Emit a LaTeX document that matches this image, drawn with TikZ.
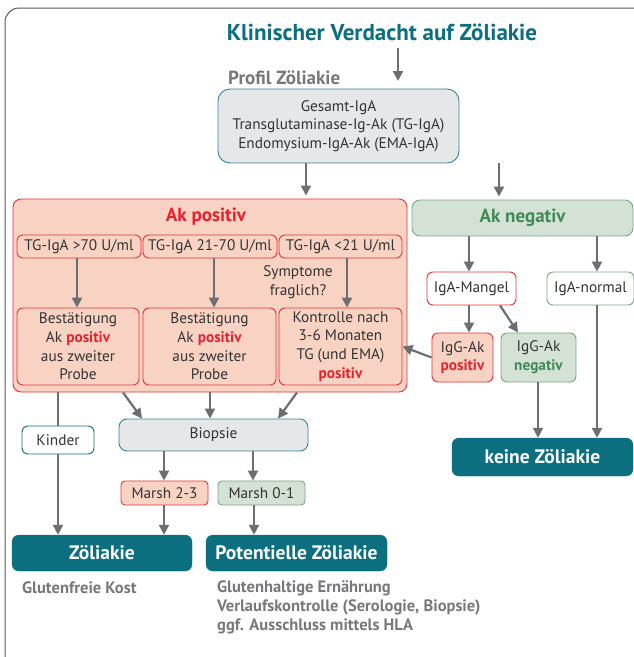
\documentclass[tikz,border=0pt]{standalone}
\usepackage{fontspec}
\setmainfont{PT Sans}
\usetikzlibrary{arrows.meta,calc}
\definecolor{teal1}{HTML}{0B6F80}
\definecolor{salm}{HTML}{F8D3C4}
\definecolor{redb}{HTML}{E63238}
\definecolor{redt}{HTML}{E8212E}
\definecolor{grnf}{HTML}{D4E2D6}
\definecolor{grnb}{HTML}{7BA486}
\definecolor{grnt}{HTML}{3F8A57}
\definecolor{grayf}{HTML}{E5E7E9}
\definecolor{arrg}{HTML}{6D6E71}
\definecolor{txtg}{HTML}{77787B}
\definecolor{txtd}{HTML}{333333}
\tikzset{
  arr/.style={draw=arrg,line width=2.2pt,-{Triangle[length=10pt,width=10pt]}},
  ln/.style={draw=arrg,line width=2.2pt},
  bx/.style={rounded corners=6pt,line width=0.9pt,align=center,inner sep=0pt,font=\fontsize{15.3}{18.7}\selectfont,text=txtd},
  redbox/.style={bx,fill=salm,draw=redb},
  grnbox/.style={bx,fill=grnf,draw=grnb},
  graybox/.style={bx,fill=grayf,draw=teal1!85},
  whred/.style={bx,fill=white,draw=redb},
  whgrn/.style={bx,fill=white,draw=grnb},
  whteal/.style={bx,fill=white,draw=teal1},
  res/.style={rounded corners=7pt,fill=teal1,draw=teal1,text=white,font=\fontsize{19.5}{22}\selectfont\bfseries,inner sep=0pt},
  note/.style={text=txtg,font=\fontsize{16.5}{19}\selectfont\bfseries,anchor=north west,inner sep=0pt,align=left},
}
\begin{document}
\begin{tikzpicture}[x=1pt,y=-1pt]
\useasboundingbox (0,0) rectangle (634,657);
\fill[white] (0,0) rectangle (634,657);
\draw[draw=black!65,line width=1pt,rounded corners=14pt] (5,8) rectangle (660,690);

\node[text=teal1,font=\fontsize{23}{26}\selectfont\bfseries] (title) at (382,32) {Klinischer Verdacht auf Zöliakie};
\node[text=txtg,font=\fontsize{19}{22}\selectfont\bfseries,anchor=west,inner sep=0pt] (profil) at (228,78) {Profil Zöliakie};

\node[graybox,rounded corners=12pt,minimum width=241pt,minimum height=74pt] (top) at (338.5,126) {Gesamt-IgA\\Transglutaminase-Ig-Ak (TG-IgA)\\Endomysium-IgA-Ak (EMA-IgA)};

\node[redbox,rounded corners=8pt,minimum width=394pt,minimum height=193pt] (akpos) at (210,295.5) {};
\node[text=redt,font=\fontsize{19}{22}\selectfont\bfseries] (akpost) at (206,217) {Ak positiv};

\node[redbox,minimum width=124pt,minimum height=23pt] (tg1) at (79,246.5) {TG-IgA >70 U/ml};
\node[redbox,minimum width=134pt,minimum height=23pt] (tg2) at (210,246.5) {TG-IgA 21-70 U/ml};
\node[redbox,minimum width=123pt,minimum height=23pt] (tg3) at (340.5,246.5) {TG-IgA <21 U/ml};

\node[redbox,minimum width=122pt,minimum height=77pt] (b1) at (78,346.5) {Bestätigung\\Ak {\color{redt}\bfseries positiv}\\aus zweiter\\Probe};
\node[redbox,minimum width=133pt,minimum height=77pt] (b2) at (209.5,346.5) {Bestätigung\\Ak {\color{redt}\bfseries positiv}\\aus zweiter\\Probe};
\node[redbox,minimum width=123pt,minimum height=77pt] (b3) at (340.5,346.5) {Kontrolle nach\\3-6 Monaten\\TG (und EMA)\\{\color{redt}\bfseries positiv}};

\node[align=center,font=\fontsize{15.3}{19.5}\selectfont,text=txtd] (sym) at (298,282) {Symptome\\fraglich?};

\node[grnbox,rounded corners=8pt,minimum width=221pt,minimum height=36pt,font=\fontsize{19}{22}\selectfont\bfseries,text=grnt] (akneg) at (522.5,218) {Ak negativ};
\node[whred,minimum width=89pt,minimum height=33pt] (mangel) at (471.5,288.5) {IgA-Mangel};
\node[whgrn,minimum width=87pt,minimum height=33pt] (normal) at (590.5,288.5) {IgA-normal};
\node[redbox,minimum width=61pt,minimum height=49pt] (iggp) at (462.5,357.5) {IgG-Ak\\{\color{redt}\bfseries positiv}};
\node[grnbox,minimum width=75pt,minimum height=49pt] (iggn) at (538.5,357.5) {IgG-Ak\\{\color{grnt}\bfseries negativ}};
\node[res,minimum width=181pt,minimum height=38pt] (keine) at (542.5,457) {keine Zöliakie};

\node[whteal,minimum width=72pt,minimum height=28pt] (kinder) at (58,440) {Kinder};
\node[graybox,rounded corners=8pt,minimum width=189pt,minimum height=32pt] (biop) at (213.5,435) {Biopsie};
\node[redbox,rounded corners=4pt,minimum width=87pt,minimum height=24pt] (m23) at (164.5,493) {Marsh 2-3};
\node[grnbox,rounded corners=4pt,minimum width=87pt,minimum height=24pt] (m01) at (261.5,493) {Marsh 0-1};
\node[res,minimum width=180pt,minimum height=36pt] (zoel) at (102,553) {Zöliakie};
\node[res,minimum width=181pt,minimum height=36pt] (potz) at (296.5,553) {Potentielle Zöliakie};

\node[note] (gfk) at (22,582) {Glutenfreie Kost};
\node[note] (ghe) at (217,580) {Glutenhaltige Ernährung\\Verlaufskontrolle (Serologie, Biopsie)\\ggf. Ausschluss mittels HLA};

% arrows
\coordinate (tarr) at (398,48);
\coordinate (tarrend) at (398,81);
\draw[arr] (tarr) -- (tarrend);
\draw[arr] (top.south -| 306,0) -- ($(akpos.north -| 306,0)+(0,-3)$);
\draw[arr] (top.south -| 499,0) -- ($(akneg.north -| 499,0)+(0,-3)$);

\draw[arr] (tg1.south -| 77,0) -- (b1.north -| 77,0);
\draw[arr] (tg2.south -| 214,0) -- (b2.north -| 214,0);
\draw[arr] (tg3.south -| 347,0) -- (b3.north -| 347,0);

\draw[arr] (akneg.south -| 469,0) -- (mangel.north -| 469,0);
\draw[arr] (akneg.south -| 597,0) -- (normal.north -| 597,0);
\draw[arr] (mangel.south -| 469,0) -- (iggp.north -| 469,0);
\draw[arr] (mangel.south -| 500,0) -- (iggn.north -| 518,0);
\draw[arr] (iggp.west) -- (b3.east);
\draw[arr] (iggn.south -| 538,0) -- (keine.north -| 538,0);
\draw[arr] (normal.south -| 597,0) -- (keine.north -| 597,0);

\draw[ln] (akpos.south -| 58,0) -- (kinder.north);
\draw[arr] (kinder.south) -- (zoel.north -| 58,0);
\draw[arr] (akpos.south -| 123,0) -- (biop.north -| 142,0);
\draw[arr] (akpos.south -| 210,0) -- (biop.north -| 210,0);
\draw[arr] (akpos.south -| 297,0) -- (biop.north -| 278,0);
\draw[arr] (biop.south -| 164,0) -- (m23.north -| 164,0);
\draw[arr] (biop.south -| 253,0) -- (m01.north -| 253,0);
\draw[arr] (m23.south -| 164,0) -- (zoel.north -| 164,0);
\draw[arr] (m01.south -| 254,0) -- (potz.north -| 254,0);
\end{tikzpicture}
\end{document}
